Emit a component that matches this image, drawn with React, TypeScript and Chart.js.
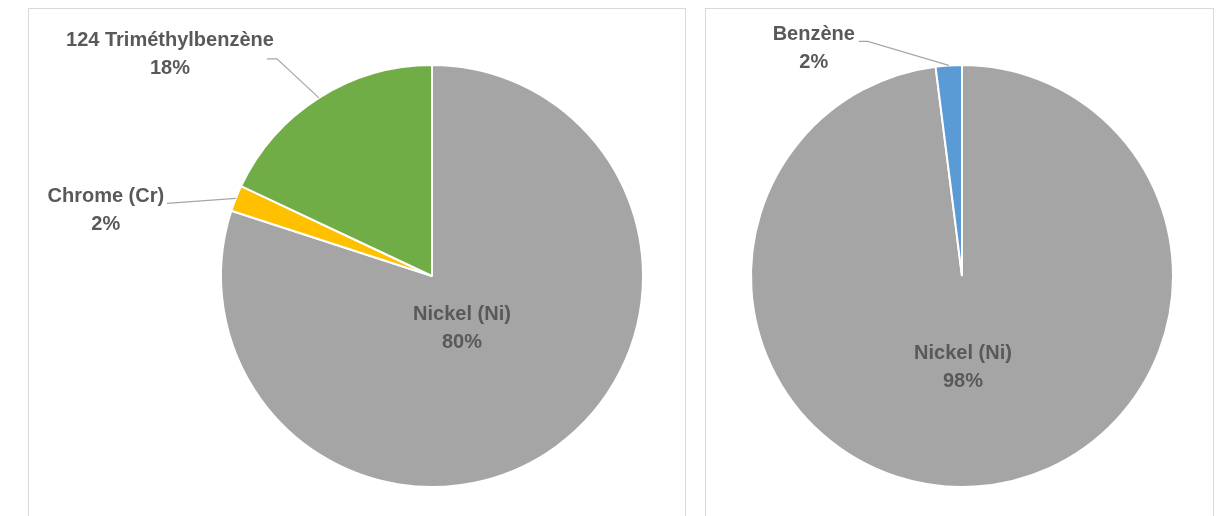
import React, { useEffect, useRef } from 'react';
import { Chart, registerables } from 'chart.js';

Chart.register(...registerables);

const leftLabels = ['Nickel (Ni)', 'Chrome (Cr)', '124 Triméthylbenzène'];
const leftValues = [80, 2, 18];
const leftColors = ['#A5A5A5', '#FFC000', '#70AD47'];

const rightLabels = ['Nickel (Ni)', 'Benzène'];
const rightValues = [98, 2];
const rightColors = ['#A5A5A5', '#5B9BD5'];

type LabelStyle = { inside?: [number, number]; text?: [number, number]; line?: [number, number][] };

const leftLabelStyles: LabelStyle[] = [
  { inside: [30, 51] },
  { text: [-130, 11], line: [[-69, 5]] },
  { text: [-149, -45], line: [[-42, -39], [-52, -39]] },
];
const rightLabelStyles: LabelStyle[] = [
  { inside: [1, 90] },
  { text: [-135, -18], line: [[-81, -24], [-90, -24]] },
];

const FONT = 'bold 20px "Liberation Sans", Arial, sans-serif';
const TEXT_COLOR = '#595959';
const LINE_GAP = 28;

function makeLabelPlugin(styles: LabelStyle[]) {
  return {
    id: 'pieLabels',
    afterDatasetsDraw(chart: any) {
      const ctx = chart.ctx as CanvasRenderingContext2D;
      const meta = chart.getDatasetMeta(0);
      const values = chart.data.datasets[0].data as number[];
      const labels = chart.data.labels as string[];
      const total = values.reduce((a, b) => a + b, 0);
      ctx.save();
      meta.data.forEach((arc: any, i: number) => {
        const p = arc.getProps(['x', 'y', 'startAngle', 'endAngle', 'outerRadius'], true);
        const mid = (p.startAngle + p.endAngle) / 2;
        const st = styles[i];
        const pct = Math.round((values[i] / total) * 100) + '%';
        let cx = 0;
        let cy = 0;
        if (st.inside) {
          cx = p.x + st.inside[0];
          cy = p.y + st.inside[1];
        } else {
          const ex = p.x + Math.cos(mid) * p.outerRadius;
          const ey = p.y + Math.sin(mid) * p.outerRadius;
          ctx.beginPath();
          ctx.moveTo(ex, ey);
          (st.line || []).forEach((pt) => ctx.lineTo(ex + pt[0], ey + pt[1]));
          ctx.strokeStyle = '#A6A6A6';
          ctx.lineWidth = 1.2;
          ctx.stroke();
          cx = ex + (st.text ? st.text[0] : 0);
          cy = ey + (st.text ? st.text[1] : 0);
        }
        ctx.font = FONT;
        ctx.fillStyle = TEXT_COLOR;
        ctx.textAlign = 'center';
        ctx.textBaseline = 'alphabetic';
        const capHalf = 7;
        ctx.fillText(labels[i], cx, cy - LINE_GAP / 2 + capHalf);
        ctx.fillText(pct, cx, cy + LINE_GAP / 2 + capHalf);
      });
      ctx.restore();
    },
  };
}

type PieProps = {
  labels: string[];
  values: number[];
  colors: string[];
  styles: LabelStyle[];
  width: number;
  height: number;
  padding: { left: number; right: number; top: number; bottom: number };
};

function PieCanvas({ labels, values, colors, styles, width, height, padding }: PieProps) {
  const ref = useRef<HTMLCanvasElement | null>(null);
  useEffect(() => {
    if (!ref.current) return;
    const chart = new Chart(ref.current, {
      type: 'pie',
      data: {
        labels,
        datasets: [
          {
            data: values,
            backgroundColor: colors,
            borderColor: '#FFFFFF',
            borderWidth: 2,
            hoverOffset: 0,
            offset: 0,
          },
        ],
      },
      options: {
        responsive: false,
        animation: false,
        devicePixelRatio: 1,
        events: [],
        layout: { padding },
        plugins: {
          legend: { display: false },
          tooltip: { enabled: false },
          title: { display: false },
        },
      },
      plugins: [makeLabelPlugin(styles)],
    });
    return () => chart.destroy();
  }, []);
  return <canvas ref={ref} width={width} height={height} style={{ display: 'block', width, height }} />;
}

export default function App() {
  const boxBase: React.CSSProperties = {
    position: 'absolute',
    top: 8,
    height: 508,
    boxSizing: 'border-box',
    borderTop: '1px solid #D9D9D9',
    borderLeft: '1px solid #D9D9D9',
    borderRight: '1px solid #D9D9D9',
    background: '#FFFFFF',
  };
  return (
    <div style={{ position: 'absolute', left: 0, top: 0, width: 1227, height: 516, overflow: 'hidden', background: '#FFFFFF' }}>
      <div style={{ ...boxBase, left: 28, width: 658 }} />
      <div style={{ ...boxBase, left: 705, width: 509 }} />
      <div style={{ position: 'absolute', left: 28, top: 8 }}>
        <PieCanvas
          labels={leftLabels}
          values={leftValues}
          colors={leftColors}
          styles={leftLabelStyles}
          width={658}
          height={508}
          padding={{ left: 192, right: 42, top: 56, bottom: 28 }}
        />
      </div>
      <div style={{ position: 'absolute', left: 705, top: 8 }}>
        <PieCanvas
          labels={rightLabels}
          values={rightValues}
          colors={rightColors}
          styles={rightLabelStyles}
          width={509}
          height={508}
          padding={{ left: 45, right: 40, top: 56, bottom: 28 }}
        />
      </div>
    </div>
  );
}
